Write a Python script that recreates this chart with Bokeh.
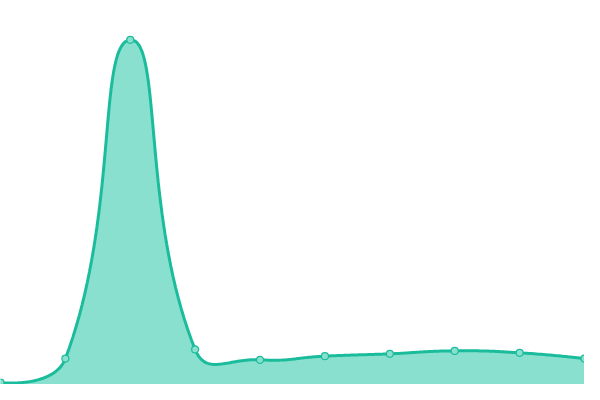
import numpy as np
from bokeh.plotting import figure
from bokeh.models import Range1d
from bokeh.embed import file_html
from bokeh.resources import INLINE

# data
categories = list(range(10))
values = [2, 27, 359, 36.5, 25.7, 29.5, 32, 35, 33, 27]

LINE = "#1abc9c"
FILL = "#8ae0ce"
Y_MAX = 400
SMOOTH = 0.5


def smooth_path(xs, ys, n=40):
    # echarts-like bezier smoothing, computed in a 600x400 reference pixel space
    sxs = np.asarray(xs, float) * 600.0 / (len(xs) - 1)
    sys_ = np.asarray(ys, float) * 400.0 / Y_MAX
    pts = np.stack([sxs, sys_], axis=1)
    N = len(pts)
    out = [pts[0]]
    cp0 = pts[0].copy()
    for i in range(1, N):
        p = pts[i]
        prev = pts[i - 1]
        if i < N - 1:
            nxt = pts[i + 1]
            v = nxt - prev
            l0 = np.hypot(*(p - prev))
            l1 = np.hypot(*(nxt - p))
            r = l1 / (l0 + l1)
            ncp = p - v * SMOOTH * (1 - r)
        else:
            v = np.zeros(2)
            r = 0.5
            ncp = p.copy()
        t = np.linspace(0, 1, n + 1)[1:, None]
        seg = (1 - t) ** 3 * prev + 3 * (1 - t) ** 2 * t * cp0 + 3 * (1 - t) * t ** 2 * ncp + t ** 3 * p
        out.extend(seg)
        cp0 = p + v * SMOOTH * r
    out = np.array(out)
    return out[:, 0] * (len(xs) - 1) / 600.0, out[:, 1] * Y_MAX / 400.0


sx, sy = smooth_path(categories, values)

p = figure(width=584, height=384, output_backend="svg", toolbar_location=None,
           x_range=Range1d(0, 9), y_range=Range1d(0, Y_MAX),
           min_border=0)
p.axis.visible = False
p.grid.visible = False
p.outline_line_color = None
p.background_fill_color = "white"
p.border_fill_color = "white"

p.patch(np.concatenate([[sx[0]], sx, [sx[-1]]]), np.concatenate([[0], sy, [0]]),
        fill_color=FILL, line_color=None)
p.line(sx, sy, line_color=LINE, line_width=3)
p.scatter(categories, values, size=7, fill_color=FILL, line_color=LINE, line_width=1.2)

open("out.html", "w").write(file_html(p, INLINE))
